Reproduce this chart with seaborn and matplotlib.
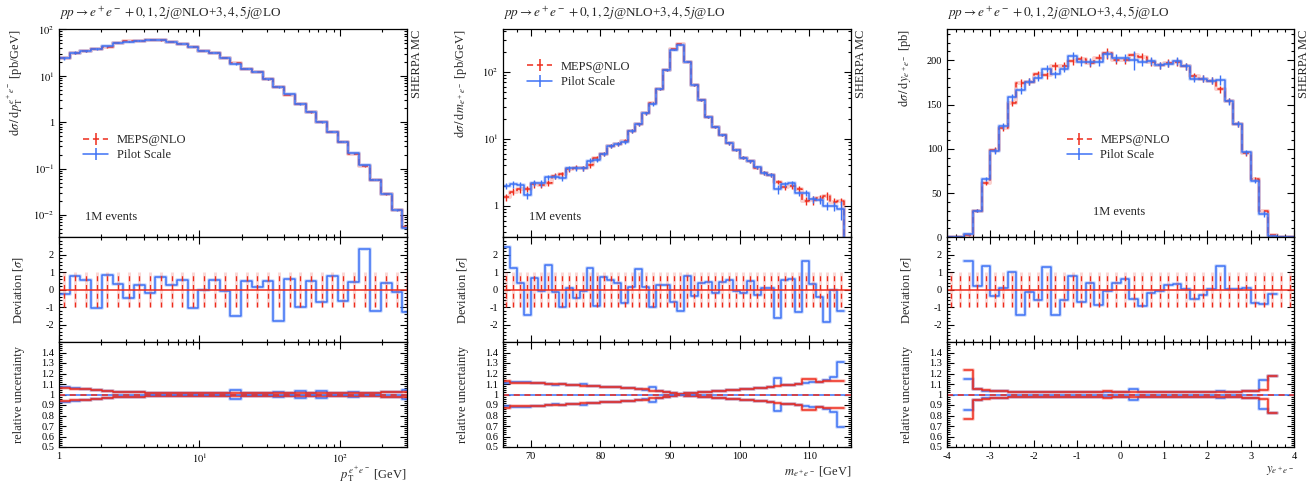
import numpy as np
import pandas as pd
from matplotlib import pyplot as plt
from matplotlib import ticker
from matplotlib.lines import Line2D
import seaborn as sns

sns.set_style('ticks')
plt.rcParams['font.family'] = ['Liberation Serif', 'DejaVu Serif']
plt.rcParams['mathtext.fontset'] = 'stix'
plt.rcParams['axes.unicode_minus'] = False

RED = '#ee2c1c'
BLUE = '#3d72f5'

# ---------------- p_T(e+e-) ----------------
pt_edges = [1.0, 1.19, 1.42, 1.70, 2.02, 2.41, 2.87, 3.42, 4.08, 4.86, 5.80, 6.91, 8.24, 9.82,
            11.7, 14.0, 16.6, 19.9, 23.7, 28.2, 33.6, 40.1, 47.8, 57.0, 67.9, 81.0, 96.5,
            115, 137, 164, 195, 233, 277, 330]
pt_meps = [24.2, 31, 34, 38.5, 42, 51, 55, 57, 60, 58, 53, 48, 42.5, 34, 31, 24.5, 18.5, 14.2,
           12, 8.3, 5.8, 3.9, 2.5, 1.62, 1.0, 0.61, 0.38, 0.21, 0.112, 0.058, 0.028, 0.0128, 0.0056]
pt_pilot = [24, 31.5, 34.5, 37, 43, 51.5, 54.5, 57.3, 59.6, 58.8, 53.3, 48.5, 41.6, 34, 31.3, 24.4,
            17.8, 14.3, 12.1, 8.4, 5.65, 3.95, 2.45, 1.64, 0.99, 0.62, 0.375, 0.212, 0.118, 0.057,
            0.0283, 0.0127, 0.0052]
pt_dev = [-0.23, 0.79, 0.56, -1.06, 0.85, 0.31, -0.48, 0.27, -0.17, 0.73, 0.29, 0.56, -1.08, 0.0,
          0.54, -0.08, -1.52, 0.48, 0.14, 0.5, -1.77, 0.6, -1.0, 0.5, -0.72, 0.79, -0.63, 0.42,
          2.31, -1.22, 0.37, -0.13, -1.28]
pt_unc_meps = [0.065, 0.056, 0.05, 0.042, 0.035, 0.027, 0.022, 0.02, 0.018, 0.017, 0.016, 0.016,
               0.015, 0.015, 0.015, 0.015, 0.015, 0.015, 0.015, 0.015, 0.015, 0.015, 0.015, 0.015,
               0.015, 0.016, 0.016, 0.016, 0.017, 0.018, 0.02, 0.022, 0.025]
pt_unc_pilot = [0.07, 0.058, 0.05, 0.043, 0.036, 0.028, 0.022, 0.02, 0.018, 0.017, 0.016, 0.016,
                0.015, 0.015, 0.015, 0.016, 0.045, 0.016, 0.015, 0.015, 0.022, 0.015, 0.035, 0.016,
                0.03, 0.016, 0.017, 0.02, 0.018, 0.018, 0.02, 0.022, 0.04]

# ---------------- m(e+e-) ----------------
m_edges = [66, 67, 68, 69, 70, 71, 72, 73, 74, 75, 76, 77, 78, 79, 80, 81, 82, 83, 84, 85, 86,
           87, 88, 89, 90, 91, 92, 93, 94, 95, 96, 97, 98, 99, 100, 101, 102, 103, 104, 105, 106,
           107, 108, 109, 110, 111, 112, 113, 114, 115, 116]
m_meps = [1.33, 1.62, 1.75, 1.8, 2.08, 2.04, 2.2, 2.77, 2.94, 3.49, 3.7, 3.6, 4.05, 5.1, 6.0, 7.9,
          8.3, 9.3, 13.0, 16.5, 23.9, 34.4, 55, 106, 215, 256, 141, 63, 37.8, 21.3, 15.1, 11.3,
          8.5, 6.8, 5.2, 4.6, 3.7, 3.1, 2.87, 2.28, 1.88, 1.97, 1.8, 1.19, 1.2, 1.29, 1.40, 1.14,
          1.16, 0]
m_pilot = [1.97, 2.08, 2.04, 1.44, 2.2, 2.15, 2.65, 2.72, 2.56, 3.6, 3.6, 3.6, 4.7, 4.8, 5.9, 7.7,
           8.3, 9.0, 13.0, 16.4, 23.9, 32.5, 55, 106, 213, 252, 142, 63, 37.5, 21.2, 15.0, 11.4,
           8.5, 6.8, 5.2, 4.6, 3.75, 3.1, 2.9, 1.77, 2.08, 2.15, 1.53, 1.56, 1.25, 1.2, 0.99, 0.99,
           0.9, 0]
m_dev = [2.46, 1.23, 0.38, -1.44, 0.65, -0.08, 1.44, -0.12, -1.02, 0.1, -0.48, -0.06, 1.25, -0.94,
         0.75, 0.58, 0.38, -0.75, 0.15, 1.21, 0.13, -1.0, 0.29, 0.25, -0.73, -1.21, 0.79, -0.37,
         0.38, 0.46, -0.19, 0.42, 0.56, -0.08, -0.19, 0.5, -0.31, 0.1, 0.1, -1.63, 0.58, 0.62,
         -1.27, 1.62, 0.33, -0.42, -1.87, 0.0, -1.2]
m_unc_meps = [0.13, 0.114, 0.11, 0.11, 0.108, 0.108, 0.1, 0.1, 0.1, 0.092, 0.092, 0.083, 0.083,
              0.083, 0.07, 0.07, 0.07, 0.06, 0.06, 0.048, 0.048, 0.035, 0.03, 0.022, 0.013, 0.006,
              0.01, 0.016, 0.025, 0.028, 0.035, 0.035, 0.041, 0.043, 0.05, 0.052, 0.06, 0.062,
              0.076, 0.078, 0.086, 0.088, 0.1, 0.145, 0.145, 0.117, 0.127, 0.133, 0.133]
m_unc_pilot = [0.11, 0.12, 0.115, 0.12, 0.108, 0.105, 0.1, 0.095, 0.1, 0.09, 0.095, 0.1, 0.085,
               0.08, 0.072, 0.068, 0.07, 0.06, 0.058, 0.05, 0.046, 0.068, 0.03, 0.022, 0.013,
               0.006, 0.01, 0.016, 0.024, 0.028, 0.034, 0.036, 0.04, 0.044, 0.05, 0.052, 0.058,
               0.064, 0.074, 0.16, 0.09, 0.088, 0.1, 0.11, 0.115, 0.12, 0.14, 0.165, 0.31]

# ---------------- y(e+e-) ----------------
y_edges = [-4.0, -3.8, -3.6, -3.4, -3.2, -3.0, -2.8, -2.6, -2.4, -2.2, -2.0, -1.8, -1.6, -1.4,
           -1.2, -1.0, -0.8, -0.6, -0.4, -0.2, 0.0, 0.2, 0.4, 0.6, 0.8, 1.0, 1.2, 1.4, 1.6, 1.8,
           2.0, 2.2, 2.4, 2.6, 2.8, 3.0, 3.2, 3.4, 3.6, 3.8, 4.0]
y_meps = [0, 0, 2.5, 30, 61.7, 98.5, 123.7, 152, 174.5, 176, 184, 183, 193.6, 193.6, 199, 201, 197,
          202.6, 208, 200, 200, 205.6, 203.8, 198, 194.4, 197, 198, 193, 182, 179, 176.7, 167,
          154, 128, 94.8, 65.8, 30, 2.6, 0, 0]
y_pilot = [0, 0, 3.5, 30, 65.8, 97.8, 125.6, 158, 166, 176, 180.5, 190.6, 184, 190.6, 205, 198,
           198, 198, 206.7, 202.6, 202.6, 200, 198, 199, 194.4, 196, 199, 193, 179, 179, 176.7,
           177.5, 153.8, 128, 96, 63.5, 26.3, 1.9, 0, 0]
y_dev = [1.63, 0.19, 1.35, -0.38, 0.1, 1.0, -1.44, -0.13, -0.6, 1.31, -1.48, -0.58, 0.77, -0.69,
         0.38, -0.88, -0.08, 0.38, 0.62, -0.54, -0.96, -0.19, -0.08, 0.29, 0.33, 0.04, -0.56, -0.31,
         0.06, 1.35, 0.06, 0.04, 0.08, -0.77, -0.81, -0.23]
y_unc_meps = [0.23, 0.055, 0.04, 0.033, 0.03, 0.027, 0.025, 0.024, 0.023, 0.022, 0.022, 0.021,
              0.021, 0.021, 0.021, 0.021, 0.03, 0.021, 0.02, 0.021, 0.021, 0.021, 0.021, 0.021,
              0.021, 0.021, 0.022, 0.022, 0.022, 0.023, 0.025, 0.028, 0.032, 0.037, 0.045, 0.178]
y_unc_pilot = [0.15, 0.05, 0.038, 0.032, 0.029, 0.026, 0.024, 0.023, 0.022, 0.021, 0.021, 0.02,
               0.02, 0.02, 0.021, 0.02, 0.021, 0.02, 0.02, 0.055, 0.02, 0.021, 0.021, 0.021,
               0.021, 0.021, 0.022, 0.022, 0.022, 0.03, 0.025, 0.028, 0.032, 0.037, 0.14, 0.175]

TITLE = r'$pp \rightarrow e^+e^- + 0, 1, 2j$@NLO+$3, 4, 5j$@LO'


def stairs(ax, edges, vals, color, ls='-', lw=1.1):
    d = pd.DataFrame({'x': list(edges), 'y': list(vals) + [vals[-1]]})
    kw = dict(data=d, x='x', y='y', ax=ax, color=color, drawstyle='steps-post',
              estimator=None, sort=False, legend=False)
    sns.lineplot(lw=lw * 2.6, alpha=0.22, **kw)
    sns.lineplot(lw=lw, linestyle=ls, **kw)


def centres(edges, logx):
    e = np.asarray(edges, float)
    return np.sqrt(e[:-1] * e[1:]) if logx else 0.5 * (e[:-1] + e[1:])


def decade(v, pos):
    if abs(v - 1) < 1e-9:
        return '1'
    return r'$10^{%d}$' % round(np.log10(v))


panels = [
    dict(edges=pt_edges, meps=pt_meps, pilot=pt_pilot, dev=pt_dev, dev_edges=pt_edges,
         dev_bar_edges=pt_edges, unc_edges=pt_edges, u_meps=pt_unc_meps, u_pilot=pt_unc_pilot,
         logx=True, logy=True, xlim=(1, 300), ylim=(3.3e-3, 100),
         ylabel=r'$\mathrm{d}\sigma\,/\,\mathrm{d}p_\mathrm{T}^{e^+e^-}$ [pb/GeV]',
         xlabel=r'$p_\mathrm{T}^{e^+e^-}$ [GeV]', leg=(0.07, 0.432), ev=(0.075, 0.099),
         left=59, width=348),
    dict(edges=m_edges, meps=m_meps, pilot=m_pilot, dev=m_dev, dev_edges=m_edges[:-1],
         dev_bar_edges=m_edges[:-1], unc_edges=m_edges[:-1], u_meps=m_unc_meps, u_pilot=m_unc_pilot,
         logx=False, logy=True, xlim=(66, 116), ylim=(0.337, 430),
         ylabel=r'$\mathrm{d}\sigma\,/\,\mathrm{d}m_{e^+e^-}$ [pb/GeV]',
         xlabel=r'$m_{e^+e^-}$ [GeV]', leg=(0.07, 0.783), ev=(0.075, 0.099),
         left=503, width=348),
    dict(edges=y_edges, meps=y_meps, pilot=y_pilot, dev=y_dev, dev_edges=y_edges[2:-2],
         dev_bar_edges=y_edges, unc_edges=y_edges[2:-2], u_meps=y_unc_meps, u_pilot=y_unc_pilot,
         logx=False, logy=False, xlim=(-4, 4), ylim=(0, 235),
         ylabel=r'$\mathrm{d}\sigma\,/\,\mathrm{d}y_{e^+e^-}$ [pb]',
         xlabel=r'$y_{e^+e^-}$', leg=(0.345, 0.432), ev=(0.421, 0.123),
         left=947, width=347),
]

W, H = 1314, 484
fig = plt.figure(figsize=(W / 100, H / 100), dpi=100)
rows = [(29.3, 237.3), (237.3, 342), (342, 447)]

for i, p in enumerate(panels):
    axs = []
    for top, bot in rows:
        axs.append(fig.add_axes([p['left'] / W, 1 - bot / H, p['width'] / W, (bot - top) / H]))
    ax_m, ax_d, ax_r = axs

    # main panel
    c = centres(p['edges'], p['logx'])
    nb = len(p['unc_edges']) - 1
    off = 2 if i == 2 else 0
    for vals, unc, col, ls in [(p['meps'], p['u_meps'], RED, (0, (4, 2.5))),
                               (p['pilot'], p['u_pilot'], BLUE, '-')]:
        stairs(ax_m, p['edges'], vals, col, ls=ls)
        v = np.array(vals[off:off + nb], float)
        ax_m.errorbar(c[off:off + nb], v, yerr=v * np.array(unc), fmt='none', ecolor=col,
                      elinewidth=1.0, capsize=0)

    # deviation panel
    stairs(ax_d, p['dev_edges'], p['dev'], BLUE)
    cb = centres(p['dev_bar_edges'], p['logx'])
    ax_d.vlines(cb, -1, 1, colors=RED, lw=2.2, alpha=0.18)
    ax_d.vlines(cb, -1, 1, colors=RED, lw=0.9, linestyles=(0, (4, 3)))
    ax_d.axhline(0, color=RED, lw=1.1)

    # relative uncertainty panel
    for unc, col in [(p['u_pilot'], BLUE), (p['u_meps'], RED)]:
        u = np.array(unc)
        stairs(ax_r, p['unc_edges'], list(1 + u), col)
        stairs(ax_r, p['unc_edges'], list(1 - u), col)
    ax_r.axhline(1, color=BLUE, lw=1.1)
    ax_r.axhline(1, color=RED, lw=1.1, linestyle=(0, (4, 3)))

    for ax in axs:
        if p['logx']:
            ax.set_xscale('log')
            ax.xaxis.set_major_locator(ticker.LogLocator(base=10))
            ax.xaxis.set_minor_locator(ticker.LogLocator(base=10, subs=np.arange(2, 10)))
            ax.xaxis.set_major_formatter(ticker.FuncFormatter(decade))
            ax.xaxis.set_minor_formatter(ticker.NullFormatter())
        elif i == 1:
            ax.xaxis.set_major_locator(ticker.MultipleLocator(10))
            ax.xaxis.set_minor_locator(ticker.MultipleLocator(2))
        else:
            ax.xaxis.set_major_locator(ticker.MultipleLocator(1))
            ax.xaxis.set_minor_locator(ticker.MultipleLocator(0.2))
        ax.set_xlim(*p['xlim'])
        ax.tick_params(which='both', direction='in', top=True, right=True, labelsize=7.5,
                       width=0.8, colors='black')
        ax.tick_params(which='major', length=5)
        ax.tick_params(which='minor', length=2.5)
        for s in ax.spines.values():
            s.set_linewidth(0.9)
            s.set_color('black')
        ax.set_xlabel('')
        ax.set_ylabel('')

    if p['logy']:
        ax_m.set_yscale('log', nonpositive='clip')
        ax_m.yaxis.set_major_locator(ticker.LogLocator(base=10))
        ax_m.yaxis.set_minor_locator(ticker.LogLocator(base=10, subs=np.arange(2, 10)))
        ax_m.yaxis.set_major_formatter(ticker.FuncFormatter(decade))
        ax_m.yaxis.set_minor_formatter(ticker.NullFormatter())
    else:
        ax_m.yaxis.set_major_locator(ticker.MultipleLocator(50))
        ax_m.yaxis.set_minor_locator(ticker.MultipleLocator(10))
    ax_m.set_ylim(*p['ylim'])

    ax_d.set_ylim(-3, 3)
    ax_d.yaxis.set_major_locator(ticker.FixedLocator([-2, -1, 0, 1, 2]))
    ax_d.yaxis.set_minor_locator(ticker.MultipleLocator(0.2))
    ax_d.yaxis.set_major_formatter(ticker.FuncFormatter(lambda v, _: '%d' % round(v)))

    ax_r.set_ylim(0.5, 1.5)
    ax_r.yaxis.set_major_locator(ticker.FixedLocator([0.5, 0.6, 0.7, 0.8, 0.9, 1.0, 1.1, 1.2, 1.3, 1.4]))
    ax_r.yaxis.set_minor_locator(ticker.MultipleLocator(0.02))
    ax_r.yaxis.set_major_formatter(ticker.FuncFormatter(lambda v, _: '%g' % round(v, 1)))

    ax_m.tick_params(labelbottom=False)
    ax_d.tick_params(labelbottom=False)

    ax_m.set_ylabel(p['ylabel'], fontsize=9, loc='top')
    ax_m.yaxis.set_label_coords(-0.098, 1.0)
    ax_d.set_ylabel(r'Deviation [$\sigma$]', fontsize=9)
    ax_d.yaxis.set_label_coords(-0.098, 0.5)
    ax_r.set_ylabel('relative uncertainty', fontsize=9)
    ax_r.yaxis.set_label_coords(-0.098, 0.5)
    ax_r.set_xlabel(p['xlabel'], fontsize=9, loc='right')
    ax_r.xaxis.set_label_coords(1.0, -0.165)

    ax_m.text(0.0, 1.035, TITLE, transform=ax_m.transAxes, ha='left', va='bottom', fontsize=9.5)
    ax_m.text(1.012, 1.0, 'SHERPA MC', transform=ax_m.transAxes, rotation=90, ha='left',
              va='top', fontsize=9)
    ax_m.text(p['ev'][0], p['ev'][1], '1M events', transform=ax_m.transAxes, ha='left',
              va='center', fontsize=9)

    h_red = Line2D([], [], color=RED, lw=1.1, linestyle=(0, (4, 2.5)), marker='|',
                   markersize=9, markeredgewidth=1.1)
    h_blue = Line2D([], [], color=BLUE, lw=1.1, marker='|', markersize=9, markeredgewidth=1.1)
    ax_m.legend([h_red, h_blue], ['MEPS@NLO', 'Pilot Scale'], loc='center left',
                bbox_to_anchor=p['leg'], frameon=False, fontsize=9, handlelength=2.0,
                handletextpad=0.7, borderaxespad=0, borderpad=0, labelspacing=0.25, numpoints=1)

fig.savefig('out.png', dpi=100)
